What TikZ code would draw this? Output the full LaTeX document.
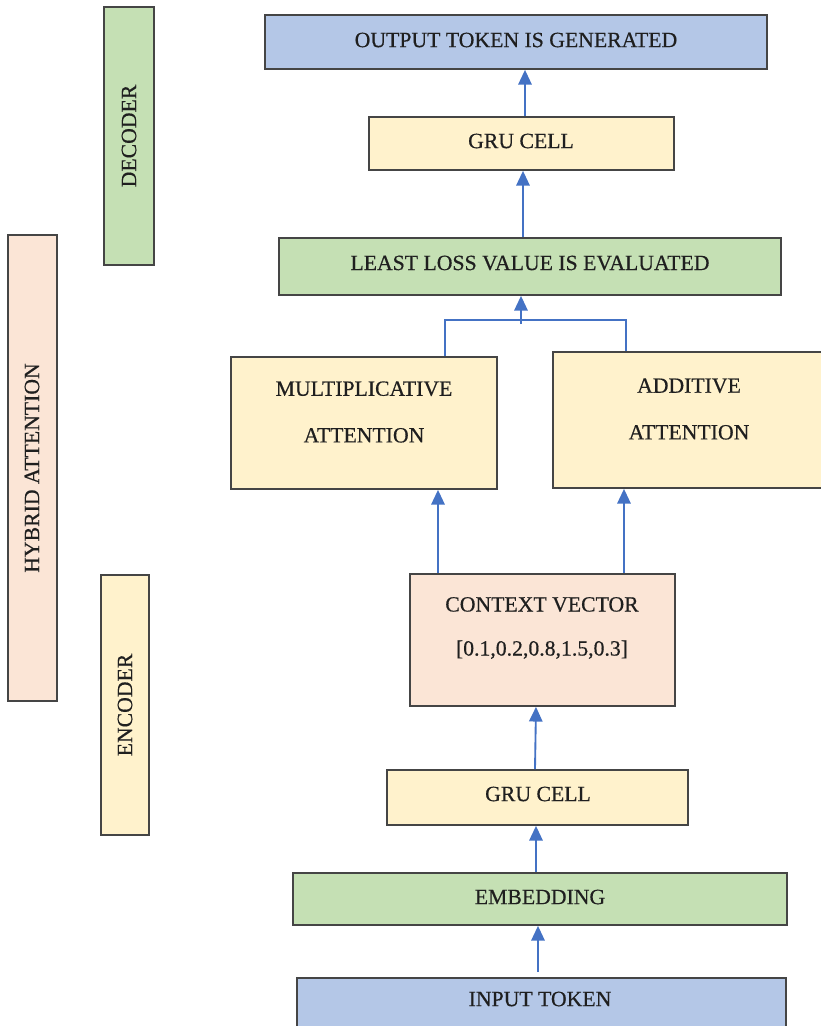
\documentclass[tikz,border=0pt]{standalone}
\usepackage{fontspec}
\setmainfont{Liberation Serif}
\newfontfamily\diagfont[FakeBold=0.5]{Liberation Serif}
\usetikzlibrary{fit,arrows.meta}
\definecolor{cblue}{HTML}{B4C7E7}
\definecolor{cyel}{HTML}{FFF2CC}
\definecolor{cgreen}{HTML}{C5E0B4}
\definecolor{cpeach}{HTML}{FBE5D6}
\definecolor{carrow}{HTML}{4472C4}
\definecolor{cborder}{HTML}{454545}
\tikzset{
  box/.style={draw=cborder, line width=1.3pt, inner sep=0pt, rectangle},
  lbl/.style={font=\diagfont\fontsize{16.3}{19}\selectfont, text=black!88, align=center, inner sep=0pt},
  vlbl/.style={lbl, rotate=90},
  conn/.style={draw=carrow, line width=1.4pt},
  arr/.style={conn, -{Triangle[width=10pt,length=11pt]}}
}
\begin{document}
\begin{tikzpicture}[x=0.75pt,y=-0.75pt]
\useasboundingbox (0,0) rectangle (821,1026);
% side bands
\node[box, fill=cgreen, fit={(104,7)(154,265)}] (dec) {};
\node[vlbl] (dect) at (129,136) {DECODER};
\node[box, fill=cpeach, fit={(8,235)(57,701)}] (hyb) {};
\node[vlbl] (hybt) at (32,468) {HYBRID ATTENTION};
\node[box, fill=cyel, fit={(101,575)(149,835)}] (enc) {};
\node[vlbl] (enct) at (125,705) {ENCODER};
% main boxes
\node[box, fill=cblue, fit={(265,15)(767,69)}] (out) {};
\node[lbl] at (516,40) {OUTPUT TOKEN IS GENERATED};
\node[box, fill=cyel, fit={(369,117)(674,170)}] (gru2) {};
\node[lbl] at (521,141) {GRU CELL};
\node[box, fill=cgreen, fit={(279,238)(781,295)}] (loss) {};
\node[lbl] at (530,263) {LEAST LOSS VALUE IS EVALUATED};
\node[box, fill=cyel, fit={(231,357)(497,489)}] (mult) {};
\node[lbl] at (364,412) {MULTIPLICATIVE\\[16pt]ATTENTION};
\node[box, fill=cyel, fit={(553,352)(826,488)}] (add) {};
\node[lbl] at (689,409) {ADDITIVE\\[16pt]ATTENTION};
\node[box, fill=cpeach, fit={(410,574)(675,706)}] (ctx) {};
\node[lbl] at (542,628) {CONTEXT VECTOR\\[14pt][0.1,0.2,0.8,1.5,0.3]};
\node[box, fill=cyel, fit={(387,770)(688,825)}] (gru1) {};
\node[lbl] at (538,794) {GRU CELL};
\node[box, fill=cgreen, fit={(293,873)(787,925)}] (emb) {};
\node[lbl] at (540,897) {EMBEDDING};
\node[box, fill=cblue, fit={(297,978)(786,1035)}] (inp) {};
\node[lbl] at (540,999) {INPUT TOKEN};
% connectors
\coordinate (mj) at (445,320);
\coordinate (aj) at (626,320);
\coordinate (jn) at (521,324);
\draw[arr] (inp.north -| 538,0) ++(0,-5) -- (emb.south -| 538,0);
\draw[arr] (emb.north -| 536,0) -- (gru1.south -| 536,0);
\draw[arr] (gru1.north -| 535,0) -- (ctx.south -| 536,0);
\draw[arr] (ctx.north -| 438,0) -- (mult.south -| 438,0);
\draw[arr] (ctx.north -| 624,0) -- (add.south -| 624,0);
\draw[conn] (mult.north -| mj) -- (mj) -- (aj) -- (add.north -| aj);
\draw[arr] (jn) -- (loss.south -| jn);
\draw[arr] (loss.north -| 523,0) -- (gru2.south -| 523,0);
\draw[arr] (gru2.north -| 525,0) -- (out.south -| 525,0);
\end{tikzpicture}
\end{document}
